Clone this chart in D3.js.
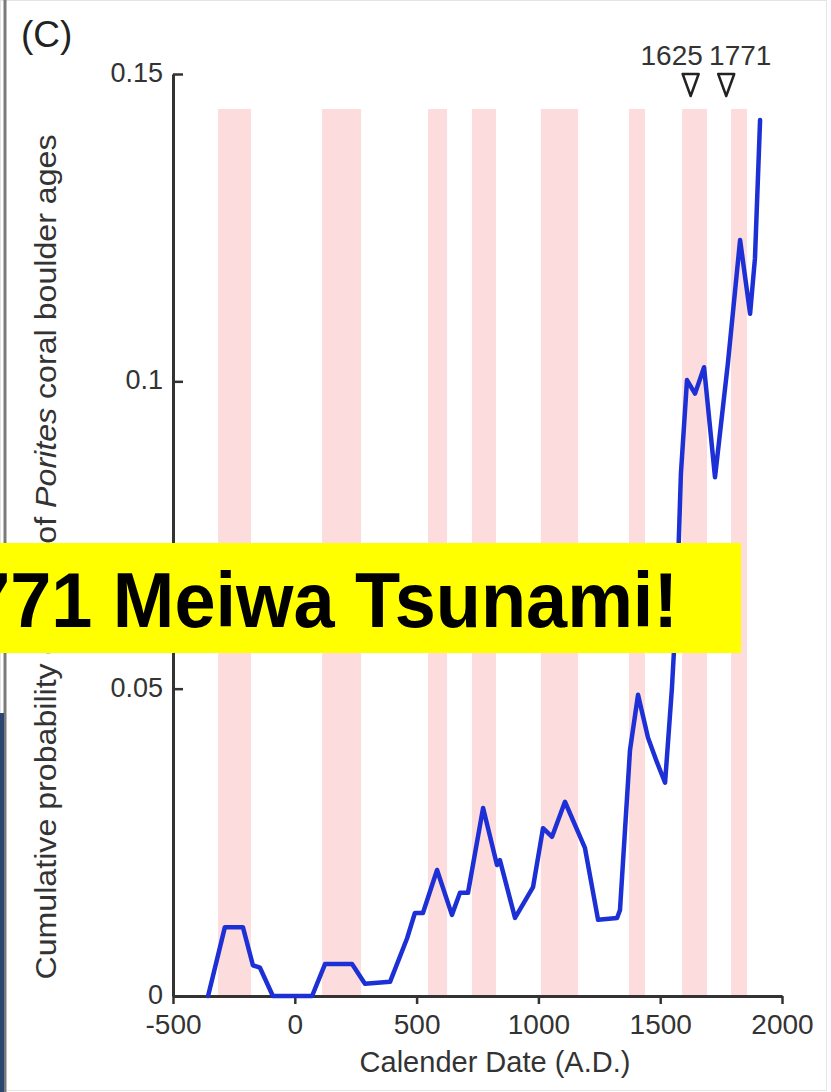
<!DOCTYPE html>
<html>
<head>
<meta charset="utf-8">
<script src="https://cdn.jsdelivr.net/npm/d3@7"></script>
<style>
    body { margin: 0; background: #fff; }
    #chart { width: 831px; height: 1092px; }
    text { font-family: "Liberation Sans", Arial, sans-serif; }
</style>
</head>
<body>
<div id="chart"></div>
<script>
// tsunami periods (pink bands), years A.D.
const bandStarts = [-315, 112, 547, 727, 1010, 1372, 1590, 1791];
const bandEnds = [-180, 272, 625, 826, 1163, 1438, 1692, 1856];

// cumulative probability density curve
const curveYears = [-356, -287, -213, -172, -143, -90, 71, 124, 235, 288, 391, 461, 493, 526, 584,
    645, 678, 711, 773, 830, 842, 904, 978, 1019, 1056, 1109, 1191, 1245, 1323, 1335, 1376, 1409,
    1450, 1487, 1520, 1548, 1569, 1585, 1610, 1643, 1680, 1725, 1778, 1828, 1869, 1889, 1910];
const curveValues = [0, 0.0112, 0.0112, 0.005, 0.0046, 0, 0, 0.0052, 0.0052, 0.002, 0.0023, 0.0094,
    0.0135, 0.0135, 0.0205, 0.0132, 0.0168, 0.0168, 0.0306, 0.0213, 0.0221, 0.0127, 0.0177, 0.0273,
    0.0259, 0.0316, 0.0241, 0.0124, 0.0127, 0.014, 0.040, 0.049, 0.042, 0.038, 0.0347, 0.05, 0.065,
    0.085, 0.1002, 0.098, 0.1023, 0.0844, 0.103, 0.123, 0.111, 0.12, 0.1425];

// historical tsunami markers
const eventYears = [1625, 1771];
const eventLabels = ["1625", "1771"];

const xTicks = [-500, 0, 500, 1000, 1500, 2000];
const xTickLabels = ["-500", "0", "500", "1000", "1500", "2000"];
const yTicks = [0, 0.05, 0.1, 0.15];
const yTickLabels = ["0", "0.05", "0.1", "0.15"];

class boulderAgeVis {
    constructor(parentElement) {
        this.parentElement = parentElement;
        this.initVis();
    }

    initVis() {
        let vis = this;

        vis.width = 831;
        vis.height = 1092;

        vis.svg = d3.select(`#${vis.parentElement}`).append("svg")
            .attr("width", vis.width)
            .attr("height", vis.height);

        vis.x = d3.scaleLinear().domain([-500, 2000]).range([173, 782]);
        vis.y = d3.scaleLinear().domain([0, 0.15]).range([996, 74]);

        // frame of the scanned figure
        vis.svg.append("rect")
            .attr("x", 0.5).attr("y", 0.5)
            .attr("width", vis.width - 5).attr("height", vis.height - 2)
            .attr("fill", "none")
            .attr("stroke", "#e4e4e4");
        vis.svg.append("line")
            .attr("x1", 5).attr("x2", 5)
            .attr("y1", 0).attr("y2", vis.height)
            .attr("stroke", "#7a7a7a")
            .attr("stroke-width", 3);
        vis.svg.append("rect")
            .attr("x", 0).attr("y", 713)
            .attr("width", 4).attr("height", vis.height - 713)
            .attr("fill", "#2c4670");

        vis.drawBands();
        vis.drawAxes();
        vis.drawCurve();
        vis.drawEvents();
        vis.drawLabels();
        vis.drawBanner();
    }

    drawBands() {
        let vis = this;

        vis.svg.append("g")
            .selectAll("rect")
            .data(bandStarts)
            .enter()
            .append("rect")
            .attr("x", d => vis.x(d))
            .attr("width", (d, i) => vis.x(bandEnds[i]) - vis.x(d))
            .attr("y", vis.y(0.1443))
            .attr("height", vis.y(0) - vis.y(0.1443))
            .attr("fill", "#fcdcdc");
    }

    drawAxes() {
        let vis = this;

        let xAxis = d3.axisBottom(vis.x)
            .tickValues(xTicks)
            .tickFormat((d, i) => xTickLabels[i])
            .tickSizeInner(8)
            .tickSizeOuter(0)
            .tickPadding(10);

        let yAxis = d3.axisLeft(vis.y)
            .tickValues(yTicks)
            .tickFormat((d, i) => yTickLabels[i])
            .tickSizeInner(-10)
            .tickSizeOuter(0)
            .tickPadding(10);

        let gx = vis.svg.append("g")
            .attr("transform", `translate(0, ${vis.y(0)})`)
            .call(xAxis);
        let gy = vis.svg.append("g")
            .attr("transform", `translate(${vis.x(-500)}, 0)`)
            .call(yAxis);

        [gx, gy].forEach(g => {
            g.select(".domain").attr("stroke", "#333").attr("stroke-width", 3);
            g.selectAll(".tick line").attr("stroke", "#333").attr("stroke-width", 2.5);
            g.selectAll(".tick text")
                .attr("fill", "#333")
                .style("font-family", "'Liberation Sans', Arial, sans-serif");
        });
        gx.selectAll(".tick text").style("font-size", "28px");
        gy.selectAll(".tick text").style("font-size", "27px").attr("dy", "0.28em");
    }

    drawCurve() {
        let vis = this;

        let line = d3.line()
            .x(d => vis.x(d[0]))
            .y(d => vis.y(d[1]));

        vis.svg.append("path")
            .datum(curveYears.map((d, i) => [d, curveValues[i]]))
            .attr("d", line)
            .attr("fill", "none")
            .attr("stroke", "#1c30d6")
            .attr("stroke-width", 4.5)
            .attr("stroke-linejoin", "round")
            .attr("stroke-linecap", "round");
    }

    drawEvents() {
        let vis = this;

        vis.svg.append("g")
            .selectAll("path")
            .data(eventYears)
            .enter()
            .append("path")
            .attr("d", d => {
                let cx = vis.x(d);
                return `M${cx - 8},74 L${cx + 8},74 L${cx},96 Z`;
            })
            .attr("fill", "#fff")
            .attr("stroke", "#222")
            .attr("stroke-width", 2.5)
            .attr("stroke-linejoin", "round");

        // labels are nudged apart so they do not overlap
        let nudges = [-19, 14];
        vis.svg.append("g")
            .selectAll("text")
            .data(eventYears)
            .enter()
            .append("text")
            .attr("x", (d, i) => vis.x(d) + nudges[i])
            .attr("y", 65)
            .attr("text-anchor", "middle")
            .style("font-size", "28px")
            .attr("fill", "#333")
            .text((d, i) => eventLabels[i]);
    }

    drawLabels() {
        let vis = this;

        vis.svg.append("text")
            .attr("x", 21)
            .attr("y", 47)
            .style("font-size", "37px")
            .attr("fill", "#222")
            .text("(C)");

        vis.svg.append("text")
            .attr("x", 495)
            .attr("y", 1072)
            .attr("text-anchor", "middle")
            .style("font-size", "29px")
            .attr("fill", "#333")
            .text("Calender Date (A.D.)");

        let yLab = vis.svg.append("text")
            .attr("transform", "translate(56, 557) rotate(-90)")
            .attr("text-anchor", "middle")
            .attr("textLength", 845)
            .attr("lengthAdjust", "spacingAndGlyphs")
            .style("font-size", "30px")
            .attr("fill", "#333");
        yLab.append("tspan").text("Cumulative probability density of ");
        yLab.append("tspan").style("font-style", "italic").text("Porites");
        yLab.append("tspan").text(" coral boulder ages");
    }

    drawBanner() {
        let vis = this;

        vis.svg.append("rect")
            .attr("x", 0).attr("y", 543)
            .attr("width", 741).attr("height", 110)
            .attr("fill", "#ffff00");

        vis.svg.append("text")
            .attr("x", -72)
            .attr("y", 627)
            .attr("textLength", 750)
            .attr("lengthAdjust", "spacingAndGlyphs")
            .style("font-size", "78px")
            .style("font-weight", "bold")
            .attr("fill", "#000")
            .text("1771 Meiwa Tsunami!");
    }
}

new boulderAgeVis("chart");
</script>
</body>
</html>
